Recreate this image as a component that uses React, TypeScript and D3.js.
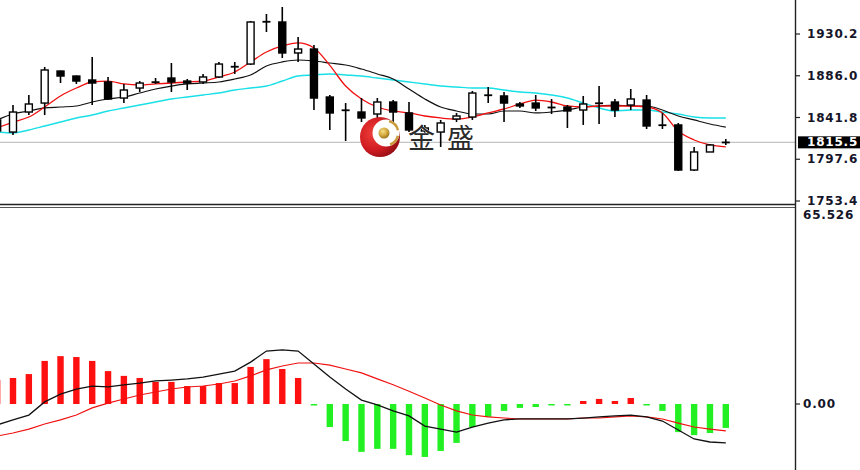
import React from "react";
import * as d3 from "d3";

// Bars run from index -1 (partly off the left edge) to 45 (the live bar).
const FIRST_INDEX = -1;

const opens = [1839.2, 1826.4, 1847.6, 1857.1, 1891.0, 1885.7, 1881.5, 1879.4, 1862.4, 1873.0, 1878.8, 1883.6, 1880.4, 1879.4, 1884.7, 1895.8, 1898.4, 1942.9, 1942.9, 1910.1, 1914.3, 1863.5, 1849.7, 1847.6, 1845.5, 1858.2, 1846.6, 1827.5, 1826.4, 1840.2, 1842.3, 1865.6, 1864.6, 1856.1, 1857.1, 1852.9, 1852.9, 1849.7, 1857.1, 1858.2, 1855.0, 1860.3, 1833.9, 1833.9, 1786.2, 1805.3, 1815.3];
const highs = [1841.3, 1855.0, 1865.6, 1895.3, 1891.5, 1886.2, 1905.8, 1884.7, 1877.3, 1880.4, 1883.6, 1899.5, 1882.6, 1887.9, 1900.6, 1900.6, 1944.0, 1951.4, 1958.8, 1927.0, 1918.6, 1865.6, 1857.1, 1862.4, 1862.4, 1860.3, 1858.2, 1833.9, 1839.2, 1846.6, 1869.9, 1874.1, 1868.8, 1858.2, 1865.6, 1861.4, 1855.0, 1864.6, 1875.1, 1861.4, 1872.0, 1865.6, 1846.6, 1836.0, 1810.6, 1813.8, 1819.0];
const lows = [1825.4, 1823.3, 1844.4, 1844.4, 1878.3, 1877.3, 1855.0, 1860.3, 1857.1, 1868.8, 1877.3, 1868.8, 1870.9, 1877.3, 1883.6, 1887.9, 1897.4, 1932.3, 1904.8, 1900.6, 1849.7, 1828.6, 1816.9, 1837.0, 1837.0, 1832.8, 1826.4, 1825.4, 1810.6, 1837.0, 1839.2, 1857.1, 1837.0, 1851.9, 1848.7, 1845.5, 1830.7, 1833.9, 1834.9, 1842.3, 1849.7, 1829.6, 1829.6, 1785.2, 1785.2, 1805.3, 1812.7];
const closes = [1827.5, 1847.6, 1856.1, 1892.1, 1885.7, 1880.4, 1878.3, 1861.4, 1870.9, 1878.3, 1879.6, 1879.4, 1878.3, 1884.7, 1898.4, 1895.3, 1942.9, 1943.4, 1910.1, 1914.3, 1862.4, 1846.6, 1849.2, 1841.3, 1858.2, 1847.6, 1828.6, 1830.7, 1836.0, 1843.4, 1867.7, 1865.1, 1857.1, 1854.0, 1851.9, 1851.9, 1848.7, 1856.1, 1856.6, 1849.7, 1861.4, 1832.8, 1833.4, 1786.2, 1805.3, 1812.7, 1815.5];

// Moving averages drawn over the candles
const maFast = [1830.7, 1837.0, 1842.3, 1852.9, 1864.6, 1873.0, 1879.4, 1880.4, 1877.3, 1876.2, 1877.3, 1878.3, 1879.4, 1880.4, 1884.7, 1890.0, 1900.6, 1911.1, 1917.5, 1920.7, 1915.4, 1897.0, 1875.1, 1861.4, 1852.9, 1848.7, 1846.6, 1843.4, 1841.3, 1840.2, 1842.3, 1846.6, 1850.8, 1856.1, 1860.3, 1858.2, 1854.0, 1852.9, 1854.0, 1854.0, 1854.0, 1852.9, 1846.6, 1827.5, 1818.0, 1812.7, 1810.6];
const maMid = [1839.2, 1845.5, 1848.7, 1851.9, 1852.9, 1854.0, 1858.2, 1861.4, 1863.5, 1867.7, 1872.0, 1875.1, 1877.3, 1878.3, 1879.4, 1882.6, 1886.8, 1896.3, 1900.6, 1902.7, 1901.6, 1899.5, 1897.4, 1893.1, 1887.9, 1882.6, 1871.9, 1861.4, 1852.9, 1848.7, 1845.5, 1845.5, 1848.7, 1848.7, 1846.6, 1847.6, 1849.7, 1852.9, 1854.0, 1855.0, 1854.0, 1854.0, 1849.7, 1843.4, 1839.2, 1834.9, 1831.7];
const maSlow = [1826.4, 1825.4, 1828.6, 1832.8, 1837.0, 1841.3, 1844.4, 1848.7, 1851.9, 1855.0, 1858.2, 1861.4, 1863.5, 1865.6, 1867.7, 1870.9, 1873.0, 1875.1, 1880.4, 1885.7, 1886.8, 1887.9, 1886.8, 1885.7, 1883.6, 1881.5, 1879.4, 1877.3, 1875.1, 1874.1, 1873.0, 1873.0, 1870.9, 1868.8, 1867.7, 1865.6, 1862.4, 1857.1, 1851.9, 1848.7, 1849.7, 1849.7, 1847.6, 1845.5, 1842.3, 1841.3, 1841.3];

// MACD sub-window
const macdHist = [8.0, 8.7, 10.0, 14.4, 16.0, 15.7, 14.4, 11.0, 9.4, 8.7, 7.4, 7.4, 6.0, 6.0, 7.0, 7.0, 12.4, 15.0, 11.7, 8.7, -0.3, -7.7, -12.4, -16.0, -15.0, -15.0, -17.1, -17.7, -15.7, -13.0, -7.7, -4.3, -2.3, -1.3, -1.0, -0.5, -0.5, 1.0, 1.7, 1.0, 2.0, -0.5, -2.3, -9.4, -10.4, -9.7, -8.0];
const macdLine = [-7.0, -5.3, -3.7, 0.7, 3.3, 5.0, 6.0, 5.7, 6.4, 7.0, 7.7, 8.0, 8.4, 9.0, 10.0, 11.0, 14.0, 17.7, 18.1, 17.7, 13.4, 9.0, 5.0, 1.3, -0.3, -2.3, -4.0, -7.4, -8.4, -9.4, -7.7, -6.4, -5.3, -5.0, -5.0, -5.0, -5.0, -4.7, -4.3, -4.0, -3.7, -4.3, -5.7, -8.7, -11.7, -12.7, -13.0];
const macdSignal = [-10.7, -9.7, -8.4, -6.7, -5.3, -3.7, -1.3, 0.3, 1.7, 3.0, 4.0, 5.0, 5.7, 6.0, 6.7, 7.7, 9.4, 11.4, 12.7, 13.7, 13.7, 13.0, 11.7, 10.4, 8.4, 6.4, 4.3, 2.0, -0.3, -2.3, -3.7, -4.3, -4.7, -5.0, -5.0, -5.0, -5.0, -4.7, -4.7, -4.3, -4.0, -4.3, -5.0, -6.4, -7.7, -8.4, -9.0];

const priceTicks = [1930.2, 1886.0, 1841.8, 1797.6, 1753.4];
const priceTickLabels = ["1930.2", "1886.0", "1841.8", "1797.6", "1753.4"];
const lastPrice = 1815.5;
const lastPriceLabel = "1815.5";
const macdTop = 65.526;
const macdTopLabel = "65.526";
const macdZeroLabel = "0.00";
const brandChars = ["金", "盛"];

const W = 860;
const H = 470;
const AXIS_X = 795;
const TOP_BOTTOM = 204;
const SUB_TOP = 208;

const x = d3.scaleLinear().domain([0, 45]).range([13, 725.8]);
const yP = d3.scaleLinear().domain([1753.4, 1930.2]).range([201, 34]);
const yM = d3.scaleLinear().domain([0, macdTop]).range([404, SUB_TOP]);

const bars = opens.map((o, k) => ({
  i: k + FIRST_INDEX,
  o,
  h: highs[k],
  l: lows[k],
  c: closes[k],
}));

const priceLine = (vals: number[]) =>
  d3
    .line<number>()
    .x((_, k) => x(k + FIRST_INDEX))
    .y((v) => yP(v))
    .curve(d3.curveMonotoneX)(vals) as string;

const macdPath = (vals: number[]) =>
  d3
    .line<number>()
    .x((_, k) => x(k + FIRST_INDEX))
    .y((v) => yM(v))(vals) as string;

const labelFont = {
  fontFamily: "'DejaVu Sans', Verdana, sans-serif",
  fontSize: 12,
  fontWeight: 700,
  letterSpacing: 0.8,
} as const;

function Candle({ b }: { b: { i: number; o: number; h: number; l: number; c: number } }) {
  const cx = x(b.i);
  const top = yP(Math.max(b.o, b.c));
  const bot = yP(Math.min(b.o, b.c));
  const bull = b.c >= b.o;
  const bw = 7;
  return (
    <g>
      <line x1={cx} x2={cx} y1={yP(b.h)} y2={yP(b.l)} stroke="#000" strokeWidth={1.6} />
      {bot - top < 1.5 ? (
        <line x1={cx - bw / 2 - 0.5} x2={cx + bw / 2 + 0.5} y1={(top + bot) / 2} y2={(top + bot) / 2} stroke="#000" strokeWidth={1.8} />
      ) : (
        <rect
          x={cx - bw / 2}
          y={top}
          width={bw}
          height={bot - top}
          fill={bull ? "#fff" : "#000"}
          stroke="#000"
          strokeWidth={1.4}
        />
      )}
    </g>
  );
}

function Logo() {
  const cx = 380;
  const cy = 137;
  return (
    <g>
      <defs>
        <radialGradient id="ball-red" cx="35%" cy="40%" r="70%">
          <stop offset="0%" stopColor="#f0403a" />
          <stop offset="60%" stopColor="#d01c22" />
          <stop offset="100%" stopColor="#8e0c14" />
        </radialGradient>
        <radialGradient id="ball-gold" cx="40%" cy="35%" r="65%">
          <stop offset="0%" stopColor="#f6e08a" />
          <stop offset="60%" stopColor="#d2a83c" />
          <stop offset="100%" stopColor="#9a7420" />
        </radialGradient>
      </defs>
      <circle cx={cx} cy={cy} r={20} fill="url(#ball-red)" />
      <circle cx={cx + 6} cy={cy - 4} r={13.5} fill="#fff" />
      <path
        d={d3.arc()({ innerRadius: 11, outerRadius: 13.5, startAngle: 0.25, endAngle: 1.35 }) as string}
        transform={`translate(${cx + 6},${cy - 4})`}
        fill="#c99a3a"
      />
      <path
        d={d3.arc()({ innerRadius: 11, outerRadius: 13.5, startAngle: 1.8, endAngle: 2.8 }) as string}
        transform={`translate(${cx + 6},${cy - 4})`}
        fill="#c99a3a"
      />
      <circle cx={cx + 4} cy={cy - 4} r={5.5} fill="url(#ball-gold)" />
      <text
        x={408}
        y={148}
        fontFamily="'Noto Sans CJK SC', sans-serif"
        fontSize={27}
        fill="#2b2b2b"
        stroke="#fff"
        strokeWidth={0.6}
        paintOrder="stroke"
      >
        {brandChars[0]}
      </text>
      <text
        x={447}
        y={148}
        fontFamily="'Noto Sans CJK SC', sans-serif"
        fontSize={27}
        fill="#2b2b2b"
        stroke="#fff"
        strokeWidth={0.6}
        paintOrder="stroke"
      >
        {brandChars[1]}
      </text>
    </g>
  );
}

export default function App() {
  return (
    <svg
      width={W}
      height={H}
      viewBox={`0 0 ${W} ${H}`}
      style={{ position: "absolute", left: 0, top: 0, background: "#fff" }}
    >
      <defs>
        <clipPath id="clip-main">
          <rect x={0} y={0} width={AXIS_X} height={TOP_BOTTOM} />
        </clipPath>
        <clipPath id="clip-sub">
          <rect x={0} y={SUB_TOP} width={AXIS_X} height={H - SUB_TOP} />
        </clipPath>
      </defs>
      <rect x={0} y={0} width={W} height={H} fill="#fff" />

      {/* price window */}
      <g clipPath="url(#clip-main)">
        <line x1={0} x2={AXIS_X} y1={yP(lastPrice)} y2={yP(lastPrice)} stroke="#c4c4c4" strokeWidth={1.2} />
        <path d={priceLine(maSlow)} fill="none" stroke="#19e0e6" strokeWidth={1.4} />
        <path d={priceLine(maMid)} fill="none" stroke="#111" strokeWidth={1.2} />
        <path d={priceLine(maFast)} fill="none" stroke="#f01010" strokeWidth={1.3} />
        {bars.map((b) => (
          <Candle key={b.i} b={b} />
        ))}
        <Logo />
      </g>

      {/* MACD window */}
      <g clipPath="url(#clip-sub)">
        {macdHist.map((v, k) => {
          const cx = x(k + FIRST_INDEX);
          const y0 = yM(0);
          const y1 = yM(v);
          const hgt = Math.max(Math.abs(y1 - y0), 1.5);
          return (
            <rect
              key={k}
              x={cx - 3.2}
              y={v >= 0 ? y0 - hgt : y0}
              width={6.4}
              height={hgt}
              fill={v >= 0 ? "#ff1010" : "#22f022"}
            />
          );
        })}
        <path d={macdPath(macdSignal)} fill="none" stroke="#f01010" strokeWidth={1.1} />
        <path d={macdPath(macdLine)} fill="none" stroke="#111" strokeWidth={1.3} />
      </g>

      {/* window frames */}
      <line x1={0} x2={AXIS_X + 1} y1={TOP_BOTTOM + 0.5} y2={TOP_BOTTOM + 0.5} stroke="#222" strokeWidth={1.6} />
      <line x1={0} x2={AXIS_X + 1} y1={SUB_TOP - 0.5} y2={SUB_TOP - 0.5} stroke="#555" strokeWidth={1} />
      <line x1={AXIS_X + 0.5} x2={AXIS_X + 0.5} y1={0} y2={H} stroke="#222" strokeWidth={1.4} />

      {/* price axis */}
      {priceTicks.map((v, k) => (
        <g key={v}>
          <line x1={AXIS_X} x2={AXIS_X + 5} y1={yP(v)} y2={yP(v)} stroke="#222" strokeWidth={1.2} />
          <text x={807} y={yP(v)} dominantBaseline="central" fill="#15152a" {...labelFont}>
            {priceTickLabels[k]}
          </text>
        </g>
      ))}
      <rect x={798} y={yP(lastPrice) - 6} width={W - 798} height={12} fill="#000" />
      <text x={807} y={yP(lastPrice)} dominantBaseline="central" fill="#fff" {...labelFont}>
        {lastPriceLabel}
      </text>

      {/* MACD axis */}
      <text x={803} y={215} dominantBaseline="central" fill="#15152a" {...labelFont}>
        {macdTopLabel}
      </text>
      <line x1={AXIS_X} x2={AXIS_X + 5} y1={yM(0)} y2={yM(0)} stroke="#222" strokeWidth={1.2} />
      <text x={803} y={yM(0)} dominantBaseline="central" fill="#15152a" {...labelFont}>
        {macdZeroLabel}
      </text>
    </svg>
  );
}
